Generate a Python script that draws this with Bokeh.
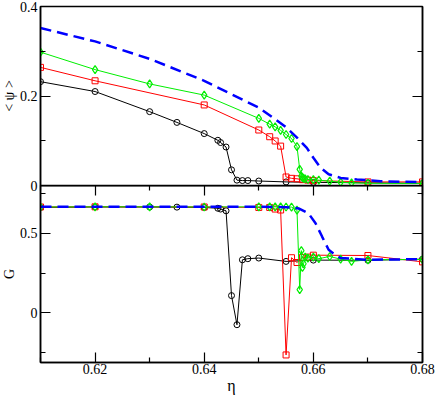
from bokeh.plotting import figure
from bokeh.models import LinearAxis, FixedTicker, CustomJSTickFormatter
from bokeh.layouts import column
from bokeh.embed import file_html
from bokeh.resources import INLINE

# ---------------- data ----------------
# black circles
eta_k = [0.61, 0.62, 0.63, 0.635, 0.64, 0.6425, 0.643, 0.644, 0.645, 0.646, 0.647, 0.648, 0.65, 0.655, 0.66, 0.67, 0.68]
psi_k = [0.232, 0.210, 0.165, 0.141, 0.116, 0.101, 0.096, 0.086, 0.035, 0.012, 0.011, 0.011, 0.010, 0.008, 0.007, 0.006, 0.005]
G_k = [0.662, 0.665, 0.665, 0.664, 0.662, 0.657, 0.652, 0.641, 0.108, -0.075, 0.333, 0.340, 0.344, 0.323, 0.331, 0.330, 0.337]

# red squares
eta_r = [0.61, 0.62, 0.64, 0.65, 0.652, 0.653, 0.654, 0.655, 0.656, 0.657, 0.658, 0.659, 0.66, 0.67, 0.68]
psi_r = [0.264, 0.234, 0.180, 0.124, 0.109, 0.0995, 0.088, 0.019, 0.016, 0.015, 0.013, 0.012, 0.011, 0.008, 0.008]
G_r = [0.665, 0.666, 0.665, 0.662, 0.662, 0.652, 0.646, -0.265, 0.346, 0.316, 0.348, 0.350, 0.362, 0.360, 0.320]

# green diamonds
eta_g = [0.61, 0.62, 0.63, 0.64, 0.65, 0.652, 0.653, 0.654, 0.655, 0.656, 0.657, 0.6575, 0.6578, 0.658,
         0.6582, 0.6585, 0.659, 0.66, 0.661, 0.663, 0.665, 0.667, 0.67, 0.68]
psi_g = [0.298, 0.259, 0.227, 0.202, 0.150, 0.137, 0.131, 0.123, 0.114, 0.105, 0.087, 0.036, 0.021, 0.018,
         0.016, 0.015, 0.0135, 0.013, 0.012, 0.0096, 0.0074, 0.006, 0.005, 0.0045]
G_g = [0.665, 0.666, 0.666, 0.665, 0.666, 0.666, 0.666, 0.666, 0.665, 0.664, 0.645, 0.146, 0.391, 0.285,
       0.308, 0.350, 0.344, 0.350, 0.340, 0.354, 0.337, 0.323, 0.333, 0.335]

# blue dashed curves
eta_b_psi = [0.61, 0.62, 0.63, 0.64, 0.65, 0.653, 0.655, 0.657, 0.6588, 0.66, 0.6613, 0.6628, 0.665, 0.668, 0.6723, 0.68]
psi_b = [0.352, 0.322, 0.283, 0.234, 0.174, 0.148, 0.130, 0.107, 0.084, 0.062, 0.040, 0.025, 0.017, 0.0135, 0.0096, 0.0074]
eta_b_G = [0.61, 0.62, 0.63, 0.64, 0.65, 0.655, 0.6573, 0.6591, 0.6604, 0.6616, 0.6628, 0.664, 0.665, 0.67, 0.68]
G_b = [0.666, 0.666, 0.666, 0.666, 0.666, 0.664, 0.656, 0.625, 0.563, 0.479, 0.396, 0.364, 0.344, 0.333, 0.337]

# ticks
psi_ticks = [0, 0.2, 0.4]
psi_minor = [0.1, 0.3]
G_ticks = [0, 0.5]
G_minor = [-0.25, 0.25, 0.75]
eta_ticks = [0.62, 0.64, 0.66, 0.68]
eta_minor = [0.61, 0.63, 0.65, 0.67]

FONT = "Liberation Serif"


def style_axis(ax, labels=True):
    ax.axis_line_color = "black"
    ax.axis_line_width = 1.5
    ax.major_tick_line_color = "black"
    ax.minor_tick_line_color = "black"
    ax.major_tick_line_width = 1.2
    ax.minor_tick_line_width = 1.2
    ax.major_tick_in = 10
    ax.major_tick_out = 0
    ax.minor_tick_in = 5
    ax.minor_tick_out = 0
    ax.major_label_text_font = FONT
    ax.axis_label_text_font = FONT
    ax.axis_label_text_font_style = "normal"
    ax.axis_label_text_color = "black"
    ax.major_label_text_color = "black"
    ax.major_label_text_font_size = "14px"
    ax.axis_label_text_font_size = "14px"
    if labels:
        ax.major_label_standoff = 3
        ax.axis_label_standoff = 0
    else:
        ax.formatter = CustomJSTickFormatter(code="return ''")
        ax.major_label_standoff = 0
        ax.axis_label_standoff = 0


def base_fig(w, h, yr, left, top, bottom):
    p = figure(width=w, height=h, x_range=(0.61, 0.68), y_range=yr,
               x_axis_location=None, y_axis_location=None,
               min_border_left=left, min_border_right=14,
               min_border_top=top, min_border_bottom=bottom,
               toolbar_location=None, output_backend="svg")
    p.xgrid.visible = False
    p.ygrid.visible = False
    p.outline_line_color = "black"
    p.outline_line_width = 1.5
    p.background_fill_color = None
    p.border_fill_color = None
    return p


# ---------------- top panel ----------------
p1 = base_fig(444, 203, (0, 0.4), 48, 14, 10)
ax = LinearAxis(ticker=FixedTicker(ticks=psi_ticks, minor_ticks=psi_minor), axis_label="< ψ >")
style_axis(ax)
p1.add_layout(ax, "left")
ax = LinearAxis(ticker=FixedTicker(ticks=psi_ticks, minor_ticks=psi_minor))
style_axis(ax, labels=False)
p1.add_layout(ax, "right")

p1.line(eta_k, psi_k, line_color="black", line_width=1)
p1.scatter(eta_k, psi_k, marker="circle", size=6, line_color="black", fill_color=None, line_width=1)
p1.line(eta_r, psi_r, line_color="#ff0000", line_width=1)
p1.scatter(eta_r, psi_r, marker="square", size=6, line_color="#ff0000", fill_color=None, line_width=1)
p1.line(eta_g, psi_g, line_color="#00ee00", line_width=1)
p1.scatter(eta_g, psi_g, marker="diamond", size=8, line_color="#00ee00", fill_color=None, line_width=1.2)
p1.line(eta_b_psi, psi_b, line_color="#0000ff", line_width=2.5, line_dash="11 6")

# ---------------- bottom panel ----------------
p2 = base_fig(444, 211, (-0.3125, 0.8), 48, 0, 33)
p2.margin = (-10, 0, 0, 0)
ax = LinearAxis(ticker=FixedTicker(ticks=G_ticks, minor_ticks=G_minor), axis_label="G")
style_axis(ax)
p2.add_layout(ax, "left")
ax = LinearAxis(ticker=FixedTicker(ticks=G_ticks, minor_ticks=G_minor))
style_axis(ax, labels=False)
p2.add_layout(ax, "right")
ax = LinearAxis(ticker=FixedTicker(ticks=eta_ticks, minor_ticks=eta_minor), axis_label="η")
style_axis(ax)
ax.major_label_standoff = 1
ax.axis_label_standoff = 0
ax.axis_label_text_font_size = "16px"
p2.add_layout(ax, "below")
ax = LinearAxis(ticker=FixedTicker(ticks=eta_ticks, minor_ticks=eta_minor))
style_axis(ax, labels=False)
p2.add_layout(ax, "above")

p2.line(eta_k, G_k, line_color="black", line_width=1)
p2.scatter(eta_k, G_k, marker="circle", size=6, line_color="black", fill_color=None, line_width=1)
p2.line(eta_r, G_r, line_color="#ff0000", line_width=1)
p2.scatter(eta_r, G_r, marker="square", size=6, line_color="#ff0000", fill_color=None, line_width=1)
p2.line(eta_g, G_g, line_color="#00ee00", line_width=1)
p2.scatter(eta_g, G_g, marker="diamond", size=8, line_color="#00ee00", fill_color=None, line_width=1.2)
p2.line(eta_b_G, G_b, line_color="#0000ff", line_width=2.5, line_dash="11 6")

root = column(p1, p2, margin=(-8, 0, 0, -8))
open("out.html", "w").write(file_html(root, INLINE))
